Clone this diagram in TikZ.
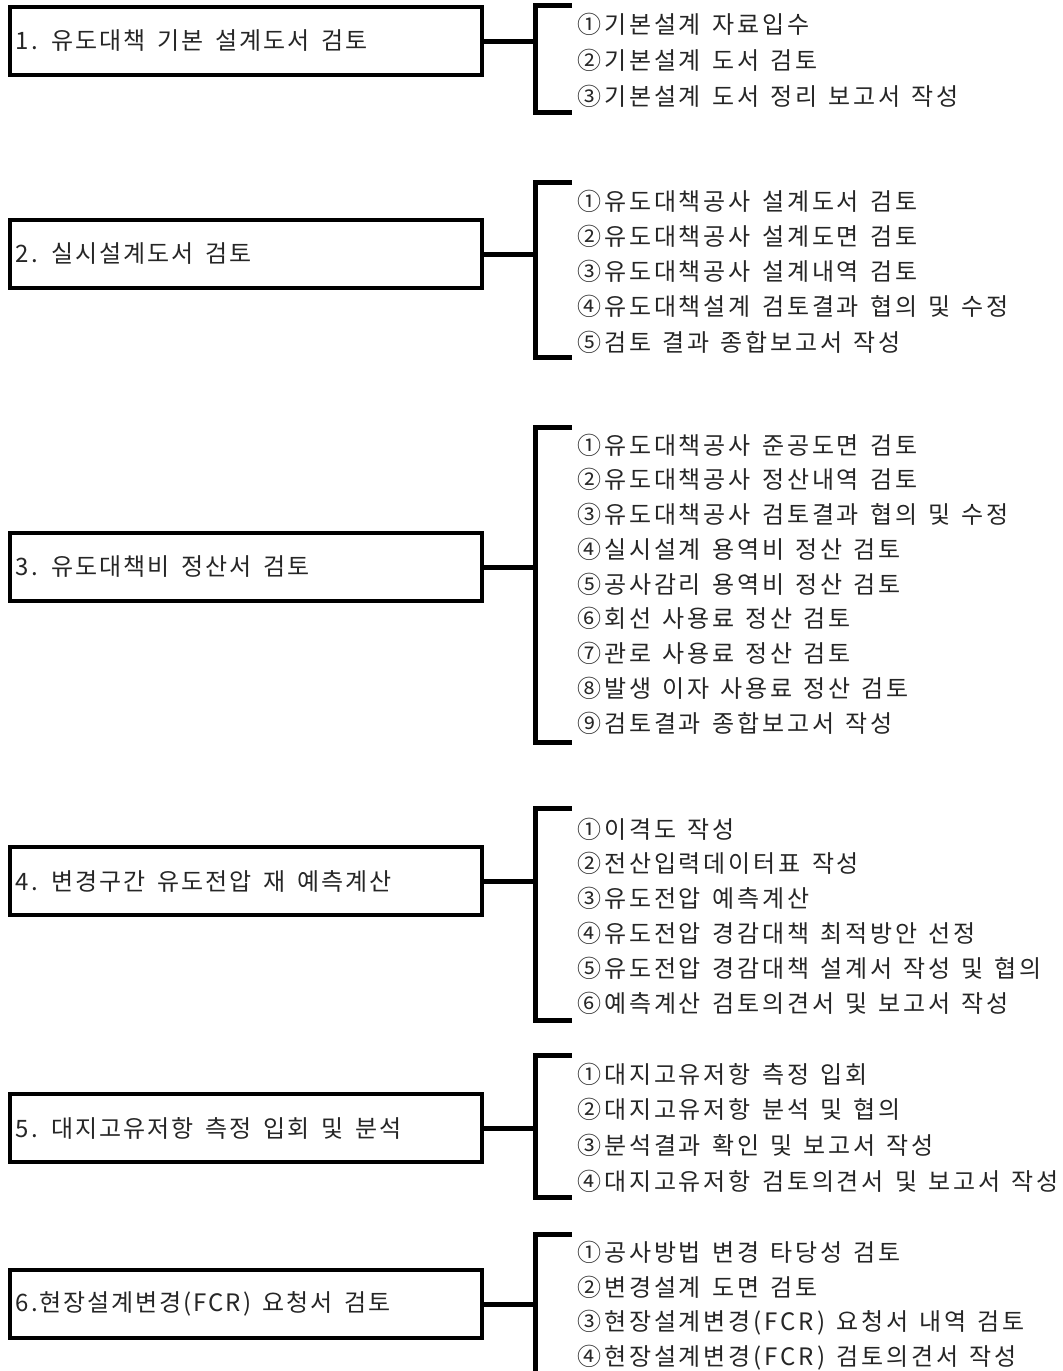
\documentclass[tikz,border=0pt]{standalone}
\usepackage{fontspec}
\setmainfont{Noto Sans CJK KR}
\newfontfamily\boxkr[LetterSpace=8,WordSpace=1.6]{Noto Sans CJK KR}
\newfontfamily\itemkr[LetterSpace=12,WordSpace=1.35]{Noto Sans CJK KR}
\newcommand\boxtext[1]{\makebox[460pt][l]{#1}}
\begin{document}
\begin{tikzpicture}[x=1pt,y=-1pt,
  box/.style={draw=black, line width=4pt, minimum width=472pt, minimum height=68pt,
    inner xsep=4pt, inner ysep=0pt,
    font=\boxkr\fontsize{24}{26}\selectfont, text=black!85},
  item/.style={anchor=west, inner sep=0pt, font=\itemkr\fontsize{24}{26}\selectfont, text=black!85},
  link/.style={line width=5pt},
  brk/.style={line width=5pt}]
\useasboundingbox (0,0) rectangle (1063,1371);
\clip (0,0) rectangle (1063,1371);
% group 1
\node[box] (b1) at (246,41) {\boxtext{1. 유도대책 기본 설계도서 검토}};
\coordinate (t1) at (572,5); \coordinate (u1) at (572,112);
\draw[brk] (t1) -| (535,112) -- (u1);
\draw[link] (b1.east) -- (535,41);
\foreach \t [count=\i] in {{①기본설계 자료입수},{②기본설계 도서 검토},{③기본설계 도서 정리 보고서 작성}}
  \node[item] (a\i) at (577,{24+36*(\i-1)}) {\t};
% group 2
\node[box] (b2) at (246,254) {\boxtext{2. 실시설계도서 검토}};
\coordinate (t2) at (572,182); \coordinate (u2) at (572,357);
\draw[brk] (t2) -| (535,357) -- (u2);
\draw[link] (b2.east) -- (535,254);
\foreach \t [count=\i] in {{①유도대책공사 설계도서 검토},{②유도대책공사 설계도면 검토},{③유도대책공사 설계내역 검토},{④유도대책설계 검토결과 협의 및 수정},{⑤검토 결과 종합보고서 작성}}
  \node[item] (c\i) at (577,{201+35.25*(\i-1)}) {\t};
% group 3
\node[box] (b3) at (246,567) {\boxtext{3. 유도대책비 정산서 검토}};
\coordinate (t3) at (572,427); \coordinate (u3) at (572,742);
\draw[brk] (t3) -| (535,742) -- (u3);
\draw[link] (b3.east) -- (535,567);
\foreach \t [count=\i] in {{①유도대책공사 준공도면 검토},{②유도대책공사 정산내역 검토},{③유도대책공사 검토결과 협의 및 수정},{④실시설계 용역비 정산 검토},{⑤공사감리 용역비 정산 검토},{⑥회선 사용료 정산 검토},{⑦관로 사용료 정산 검토},{⑧발생 이자 사용료 정산 검토},{⑨검토결과 종합보고서 작성}}
  \node[item] (d\i) at (577,{445+34.75*(\i-1)}) {\t};
% group 4
\node[box] (b4) at (246,881) {\boxtext{4. 변경구간 유도전압 재 예측계산}};
\coordinate (t4) at (572,808); \coordinate (u4) at (572,1020);
\draw[brk] (t4) -| (535,1020) -- (u4);
\draw[link] (b4.east) -- (535,881);
\foreach \t [count=\i] in {{①이격도 작성},{②전산입력데이터표 작성},{③유도전압 예측계산},{④유도전압 경감대책 최적방안 선정},{⑤유도전압 경감대책 설계서 작성 및 협의},{⑥예측계산 검토의견서 및 보고서 작성}}
  \node[item] (e\i) at (577,{829+34.8*(\i-1)}) {\t};
% group 5
\node[box] (b5) at (246,1128) {\boxtext{5. 대지고유저항 측정 입회 및 분석}};
\coordinate (t5) at (572,1055); \coordinate (u5) at (572,1197);
\draw[brk] (t5) -| (535,1197) -- (u5);
\draw[link] (b5.east) -- (535,1128);
\foreach \t [count=\i] in {{①대지고유저항 측정 입회},{②대지고유저항 분석 및 협의},{③분석결과 확인 및 보고서 작성},{④대지고유저항 검토의견서 및 보고서 작성}}
  \node[item] (f\i) at (577,{1074+35.7*(\i-1)}) {\t};
% group 6
\node[box] (b6) at (246,1304) {\boxtext{6.현장설계변경(FCR) 요청서 검토}};
\coordinate (t6) at (572,1234); \coordinate (u6) at (535,1380);
\draw[brk] (t6) -| (u6);
\draw[link] (b6.east) -- (535,1304);
\foreach \t [count=\i] in {{①공사방법 변경 타당성 검토},{②변경설계 도면 검토},{③현장설계변경(FCR) 요청서 내역 검토},{④현장설계변경(FCR) 검토의견서 작성}}
  \node[item] (g\i) at (577,{1252+35.3*(\i-1)}) {\t};
\end{tikzpicture}
\end{document}
